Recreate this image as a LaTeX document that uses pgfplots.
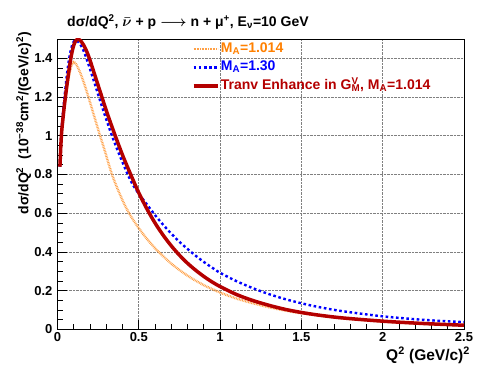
\documentclass[border=0pt]{standalone}
\usepackage{fontspec}
\setmainfont{Liberation Sans}
\usepackage{pgfplots}
\pgfplotsset{compat=1.18}
\definecolor{orangeline}{RGB}{255,160,70}
\definecolor{orangetext}{RGB}{255,128,0}
\definecolor{bluema}{RGB}{0,0,255}
\definecolor{redtr}{RGB}{180,0,0}

% M_A = 1.014
\pgfplotstableread{
q2 y
0.015 0.84
0.02 0.93
0.025 1.00
0.03 1.05
0.04 1.13
0.05 1.20
0.06 1.255
0.07 1.305
0.08 1.345
0.09 1.372
0.10 1.381
0.11 1.376
0.12 1.362
0.14 1.325
0.16 1.28
0.187 1.21
0.21 1.145
0.235 1.075
0.262 1.00
0.29 0.925
0.31 0.868
0.335 0.80
0.36 0.745
0.385 0.695
0.41 0.648
0.44 0.60
0.48 0.547
0.52 0.50
0.56 0.457
0.61 0.41
0.70 0.339
0.80 0.277
0.90 0.228
1.0 0.190
1.1 0.159
1.2 0.135
1.3 0.114
1.4 0.097
1.5 0.083
1.75 0.057
2.0 0.040
2.25 0.028
2.5 0.020
}\tabmaone

% M_A = 1.30
\pgfplotstableread{
q2 y
0.015 0.84
0.02 0.95
0.025 1.03
0.03 1.085
0.04 1.175
0.05 1.255
0.06 1.33
0.07 1.39
0.08 1.435
0.09 1.468
0.10 1.487
0.11 1.493
0.12 1.49
0.135 1.478
0.15 1.458
0.165 1.43
0.18 1.395
0.20 1.345
0.225 1.28
0.255 1.20
0.28 1.135
0.31 1.06
0.335 1.00
0.36 0.945
0.385 0.893
0.41 0.843
0.435 0.795
0.46 0.752
0.50 0.700
0.55 0.645
0.60 0.590
0.65 0.540
0.70 0.494
0.75 0.452
0.80 0.415
0.85 0.380
0.90 0.348
0.95 0.319
1.0 0.292
1.1 0.249
1.2 0.213
1.3 0.182
1.4 0.156
1.5 0.1345
1.6 0.116
1.75 0.094
2.0 0.067
2.25 0.049
2.5 0.037
}\tabmath

% transverse enhancement, M_A = 1.014
\pgfplotstableread{
q2 y
0.015 0.84
0.02 0.94
0.025 1.015
0.03 1.06
0.04 1.14
0.05 1.21
0.06 1.275
0.07 1.335
0.08 1.39
0.09 1.435
0.10 1.468
0.11 1.488
0.12 1.497
0.13 1.498
0.14 1.493
0.16 1.47
0.18 1.435
0.20 1.39
0.225 1.325
0.25 1.26
0.275 1.195
0.30 1.13
0.325 1.07
0.355 1.00
0.40 0.90
0.45 0.80
0.50 0.705
0.55 0.622
0.60 0.549
0.65 0.486
0.70 0.431
0.75 0.383
0.80 0.341
0.85 0.305
0.90 0.273
0.95 0.245
1.0 0.221
1.1 0.180
1.2 0.149
1.3 0.124
1.4 0.103
1.5 0.087
1.6 0.074
1.75 0.059
2.0 0.042
2.25 0.030
2.5 0.021
}\tabtrans

\begin{document}
\bfseries
\begin{tikzpicture}
\useasboundingbox (-57.5pt,-58.7pt) rectangle (427.5pt,329.3pt);
\begin{axis}[
  scale only axis, width=406.5pt, height=290.3pt,
  xmin=0, xmax=2.5, ymin=0, ymax=1.5,
  xtick={0,0.5,1,1.5,2,2.5},
  ytick={0,0.2,0.4,0.6,0.8,1,1.2,1.4},
  minor x tick num=4, minor y tick num=3,
  tick pos=left, tick align=inside,
  major tick length=9pt, minor tick length=5pt,
  axis line style={line width=0.8pt},
  every tick/.style={black, line width=0.7pt},
  grid=major,
  major grid style={densely dotted, gray, line width=0.6pt},
  /pgf/number format/assume math mode=true,
  tick label style={font=\fontsize{13}{13}\selectfont\bfseries},
  yticklabel style={xshift=-1.5pt},
  title={dσ/dQ\textsuperscript{2}, {\boldmath$\bar{\nu}$} + p {\boldmath$\longrightarrow$} n + μ\textsuperscript{+}, E\textsubscript{ν}=10 GeV},
  title style={at={(axis description cs:0.0234,1.0217)}, anchor=base west,
    inner sep=0pt, font=\fontsize{14}{14}\selectfont\bfseries},
  xlabel={Q\textsuperscript{2} (GeV/c)\textsuperscript{2}},
  xlabel style={at={(axis description cs:1.015,-0.061)}, anchor=north east,
    inner sep=0pt, font=\fontsize{15.5}{15.5}\selectfont\bfseries},
  ylabel={dσ/dQ\textsuperscript{2}\ \ (10\textsuperscript{−38}cm\textsuperscript{2}/(GeV/c)\textsuperscript{2})},
  ylabel style={at={(axis description cs:-0.064,1.024)}, anchor=south east,
    inner sep=0pt, font=\fontsize{14}{14}\selectfont\bfseries},
  legend image code/.code={\draw[#1] (0pt,0pt) -- (24pt,0pt);},
  legend cell align=left,
  legend style={draw=none, fill=none, at={(axis cs:0.825,1.492)}, anchor=north west,
    inner sep=0pt, row sep=2pt,
    font=\fontsize{14}{14}\selectfont\bfseries,
    nodes={inner sep=1.5pt, text height=10pt, text depth=3.5pt}},
]
\addplot[orangeline, line width=2.4pt, dash pattern=on 0.8pt off 0.8pt, smooth, no marks]
  table[x=q2, y=y] {\tabmaone};
\addlegendentry{\textcolor{orangetext}{M\textsubscript{A}=1.014}}
\addplot[bluema, line width=2.4pt, dash pattern=on 2.6pt off 2.6pt, smooth, no marks]
  table[x=q2, y=y] {\tabmath};
\addlegendentry{\textcolor{bluema}{M\textsubscript{A}=1.30}}
\addplot[redtr, line width=3.5pt, smooth, no marks]
  table[x=q2, y=y] {\tabtrans};
\addlegendentry{\textcolor{redtr}{Tranv Enhance in G\rlap{\textsuperscript{V}}\textsubscript{M}, M\textsubscript{A}=1.014}}
\end{axis}
\end{tikzpicture}
\end{document}
